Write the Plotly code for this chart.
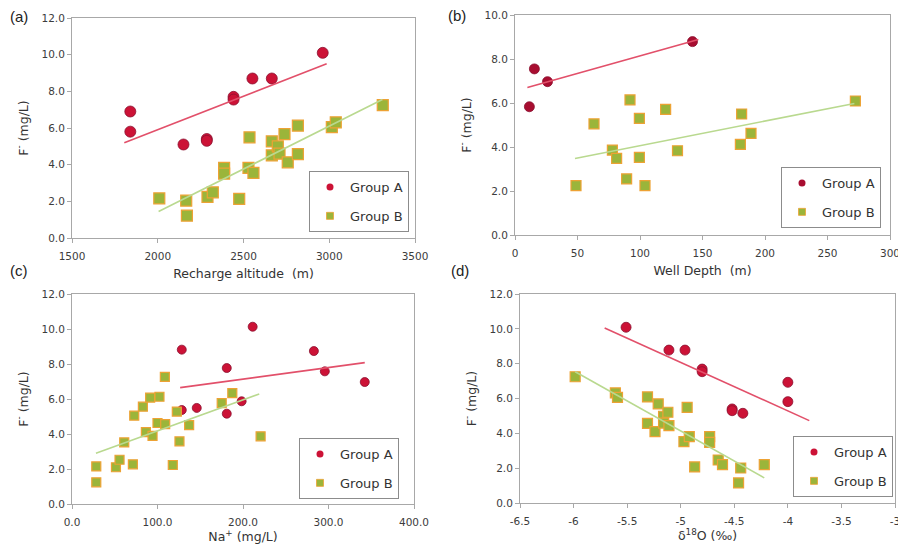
import plotly.graph_objects as go

# ---------------- data ----------------
# (a) Recharge altitude (m) vs F- (mg/L)
alt_A = [1840, 1840, 2150, 2286, 2286, 2442, 2442, 2552, 2665, 2962]
F_alt_A = [6.9, 5.8, 5.1, 5.4, 5.3, 7.7, 7.55, 8.7, 8.7, 10.1]
alt_B = [2009, 2166, 2170, 2290, 2321, 2387, 2387, 2475, 2529, 2558, 2535,
         2665, 2665, 2700, 2710, 2739, 2758, 2817, 2817, 3015, 3038, 3312]
F_alt_B = [2.16, 2.04, 1.22, 2.24, 2.49, 3.82, 3.51, 2.13, 3.82, 3.55, 5.49,
           5.27, 4.51, 5.0, 4.6, 5.67, 4.13, 6.13, 4.58, 6.05, 6.31, 7.25]
trend_alt_A_x = [1805, 2985]
trend_alt_A_y = [5.2, 9.5]
trend_alt_B_x = [2005, 3310]
trend_alt_B_y = [1.45, 7.55]

# (b) Well depth (m) vs F-
depth_A = [11.5, 15.5, 26, 142]
F_depth_A = [5.83, 7.55, 6.97, 8.79]
depth_B = [48.8, 63.2, 77.9, 81.3, 89.3, 92, 99.5, 99.5, 104, 120.5, 130,
           180.3, 181.3, 188.8, 272.3]
F_depth_B = [2.24, 5.05, 3.86, 3.48, 2.55, 6.14, 5.3, 3.53, 2.24, 5.71, 3.83,
             4.12, 5.5, 4.62, 6.09]
trend_depth_A_x = [9.9, 146.7]
trend_depth_A_y = [6.7, 8.89]
trend_depth_B_x = [48, 271.5]
trend_depth_B_y = [3.48, 5.98]

# (c) Na+ (mg/L) vs F-
Na_A = [128.4, 128.4, 145.9, 181, 181, 198.4, 211.3, 282.9, 295.7, 342.4]
F_Na_A = [8.82, 5.37, 5.49, 7.77, 5.16, 5.87, 10.13, 8.74, 7.58, 6.97]
Na_B = [28.4, 28.4, 51.4, 55.6, 61.1, 71.2, 72.8, 82.9, 86.4, 91.4, 94.2,
        100, 102.3, 108.6, 109, 117.9, 122.6, 125.7, 137, 175.1, 187.5, 220.6]
F_Na_B = [2.15, 1.24, 2.1, 2.53, 3.52, 2.27, 5.05, 5.56, 4.11, 6.08, 3.89,
          4.63, 6.13, 7.26, 4.57, 2.23, 5.28, 3.58, 4.51, 5.77, 6.34, 3.87]
trend_Na_A_x = [126.5, 342.4]
trend_Na_A_y = [6.65, 8.08]
trend_Na_B_x = [28, 219]
trend_Na_B_y = [2.9, 6.29]

# (d) delta 18O (permil) vs F-
d18O_A = [-5.51, -5.11, -4.96, -4.80, -4.80, -4.52, -4.52, -4.42, -4.0, -4.0]
F_d18O_A = [10.09, 8.78, 8.78, 7.69, 7.54, 5.4, 5.3, 5.15, 6.93, 5.82]
d18O_B = [-5.985, -5.61, -5.59, -5.31, -5.31, -5.21, -5.24, -5.16, -5.12, -5.16,
          -5.11, -4.94, -4.97, -4.92, -4.87, -4.73, -4.73, -4.65, -4.61, -4.44,
          -4.46, -4.22]
F_d18O_B = [7.25, 6.32, 6.07, 6.09, 4.57, 5.69, 4.1, 4.98, 5.21, 4.59,
            4.44, 5.49, 3.52, 3.81, 2.07, 3.81, 3.48, 2.47, 2.2, 2.01,
            1.15, 2.2]
trend_d18O_A_x = [-5.71, -3.80]
trend_d18O_A_y = [10.05, 4.73]
trend_d18O_B_x = [-5.985, -4.22]
trend_d18O_B_y = [7.54, 1.44]

# tick labels
alt_ticks = [1500, 2000, 2500, 3000, 3500]
depth_ticks = [0, 50, 100, 150, 200, 250, 300]
Na_ticks = [0, 100, 200, 300, 400]
d18O_ticks = [-6.5, -6, -5.5, -5, -4.5, -4, -3.5, -3]
F_ticks_12 = [0, 2, 4, 6, 8, 10, 12]
F_ticks_10 = [0, 2, 4, 6, 8, 10]

group_names = ["Group A", "Group B"]
panel_labels = ["(a)", "(b)", "(c)", "(d)"]

# ---------------- styles ----------------
FONT = "DejaVu Sans"
RED = "#cc1236"
RED_EDGE = "#8a1030"
GREEN = "#9bb53a"
GREEN_EDGE = "#eda234"
LINE_A = "#e2506a"
LINE_B = "#b9d98f"

fig = go.Figure()

panels = [
    dict(xa="x", ya="y", leg="legend", A=(alt_A, F_alt_A), B=(alt_B, F_alt_B),
         tA=(trend_alt_A_x, trend_alt_A_y), tB=(trend_alt_B_x, trend_alt_B_y),
         msA=11, msB=11, redc=RED),
    dict(xa="x2", ya="y2", leg="legend2", A=(depth_A, F_depth_A), B=(depth_B, F_depth_B),
         tA=(trend_depth_A_x, trend_depth_A_y), tB=(trend_depth_B_x, trend_depth_B_y),
         msA=10, msB=10, redc="#a80d30"),
    dict(xa="x3", ya="y3", leg="legend3", A=(Na_A, F_Na_A), B=(Na_B, F_Na_B),
         tA=(trend_Na_A_x, trend_Na_A_y), tB=(trend_Na_B_x, trend_Na_B_y),
         msA=9, msB=9, redc=RED),
    dict(xa="x4", ya="y4", leg="legend4", A=(d18O_A, F_d18O_A), B=(d18O_B, F_d18O_B),
         tA=(trend_d18O_A_x, trend_d18O_A_y), tB=(trend_d18O_B_x, trend_d18O_B_y),
         msA=10, msB=10, redc=RED),
]

for i, p in enumerate(panels):
    fig.add_trace(go.Scatter(
        x=p["A"][0], y=p["A"][1], mode="markers", xaxis=p["xa"], yaxis=p["ya"],
        showlegend=False, hoverinfo="x+y",
        marker=dict(symbol="circle", size=p["msA"], color=p["redc"],
                    line=dict(color=RED_EDGE, width=0.8))))
    fig.add_trace(go.Scatter(
        x=p["B"][0], y=p["B"][1], mode="markers", xaxis=p["xa"], yaxis=p["ya"],
        showlegend=False, hoverinfo="x+y",
        marker=dict(symbol="square", size=p["msB"], color=GREEN,
                    line=dict(color=GREEN_EDGE, width=1.2))))
    fig.add_trace(go.Scatter(
        x=p["tA"][0], y=p["tA"][1], mode="lines", xaxis=p["xa"], yaxis=p["ya"],
        showlegend=False, hoverinfo="skip", line=dict(color=LINE_A, width=1.6)))
    fig.add_trace(go.Scatter(
        x=p["tB"][0], y=p["tB"][1], mode="lines", xaxis=p["xa"], yaxis=p["ya"],
        showlegend=False, hoverinfo="skip", line=dict(color=LINE_B, width=1.6)))
    # legend entries
    fig.add_trace(go.Scatter(
        x=[None], y=[None], mode="markers", xaxis=p["xa"], yaxis=p["ya"],
        name=group_names[0], legend=p["leg"], legendgroup=f"A{i}",
        marker=dict(symbol="circle", size=7, color=p["redc"])))
    fig.add_trace(go.Scatter(
        x=[None], y=[None], mode="markers", xaxis=p["xa"], yaxis=p["ya"],
        name=group_names[1], legend=p["leg"], legendgroup=f"B{i}",
        marker=dict(symbol="square", size=7, color=GREEN,
                    line=dict(color=GREEN_EDGE, width=0.8))))

W, H = 898, 544

def xdom(l, r):
    return [l / W, r / W]

def ydom(t, b):
    return [1 - b / H, 1 - t / H]

tickfont = dict(family=FONT, size=10.5, color="#3c3c3c")
titlefont = dict(family=FONT, size=12.5, color="#333333")

def xaxis(dom, anchor, rng, tickvals, ticktext, title, standoff=8):
    return dict(domain=dom, anchor=anchor, range=rng, tickvals=tickvals,
                ticktext=ticktext, showgrid=False, zeroline=False,
                showline=True, linecolor="#a8a8a8", linewidth=1, mirror=True,
                ticks="outside", ticklen=4, tickcolor="#a8a8a8",
                ticklabelstandoff=4, automargin=False, ticklabeloverflow="allow",
                tickfont=tickfont,
                title=dict(text=title, font=titlefont, standoff=standoff))

def yaxis(dom, anchor, rng, tickvals, title):
    return dict(domain=dom, anchor=anchor, range=rng, tickvals=tickvals,
                ticktext=[f"{v:.1f}" for v in tickvals], showgrid=False,
                zeroline=False, showline=True, linecolor="#a8a8a8", linewidth=1,
                mirror=True, ticks="outside", ticklen=4, tickcolor="#a8a8a8",
                automargin=False, ticklabeloverflow="allow",
                tickfont=tickfont, title=dict(text=title, font=titlefont, standoff=10))

F_title = "F<sup>-</sup> (mg/L)"

def legend(xr, yb):
    return dict(x=xr / W, y=1 - yb / H, xanchor="right", yanchor="bottom",
                bgcolor="white", bordercolor="#8c8c8c", borderwidth=1,
                font=dict(family=FONT, size=13, color="#333333"),
                traceorder="grouped", tracegroupgap=9, itemwidth=30)

fig.update_layout(
    template="none",
    width=W, height=H, margin=dict(l=0, r=0, t=0, b=0, autoexpand=False),
    paper_bgcolor="white", plot_bgcolor="white",
    font=dict(family=FONT),
    xaxis=xaxis(xdom(72, 415), "y", [1500, 3500], alt_ticks,
                [str(v) for v in alt_ticks], "Recharge altitude  (m)"),
    yaxis=yaxis(ydom(18, 238), "x", [0, 12], F_ticks_12, F_title),
    xaxis2=xaxis(xdom(515, 890), "y2", [0, 300], depth_ticks,
                 [str(v) for v in depth_ticks], "Well Depth  (m)"),
    yaxis2=yaxis(ydom(15, 235), "x2", [0, 10], F_ticks_10, F_title),
    xaxis3=xaxis(xdom(72, 414), "y3", [0, 400], Na_ticks,
                 [f"{v:.1f}" for v in Na_ticks], "Na<sup>+</sup> (mg/L)", standoff=4),
    yaxis3=yaxis(ydom(294, 504), "x3", [0, 12], F_ticks_12, F_title),
    xaxis4=xaxis(xdom(520, 895), "y4", [-6.5, -3], d18O_ticks,
                 [f"{v:g}" for v in d18O_ticks], "δ<sup>18</sup>O (‰)", standoff=4),
    yaxis4=yaxis(ydom(294, 503), "x4", [0, 12], F_ticks_12, F_title),
    legend=legend(409, 232),
    legend2=legend(881, 228),
    legend3=legend(399, 499),
    legend4=legend(893, 497),
)

label_pos = [(19, 16), (457, 15), (19, 270), (460, 270)]
for txt, (px, py) in zip(panel_labels, label_pos):
    fig.add_annotation(text=txt, x=px / W, y=1 - py / H, xref="paper", yref="paper",
                       showarrow=False, xanchor="center", yanchor="middle",
                       font=dict(family="Liberation Sans", size=15, color="#222222"))

# remove the default 8px page margin so the 898x544 figure fills the window
fig.write_html("out.html", config={"displayModeBar": False},
               post_script="document.body.style.margin='0px';")
